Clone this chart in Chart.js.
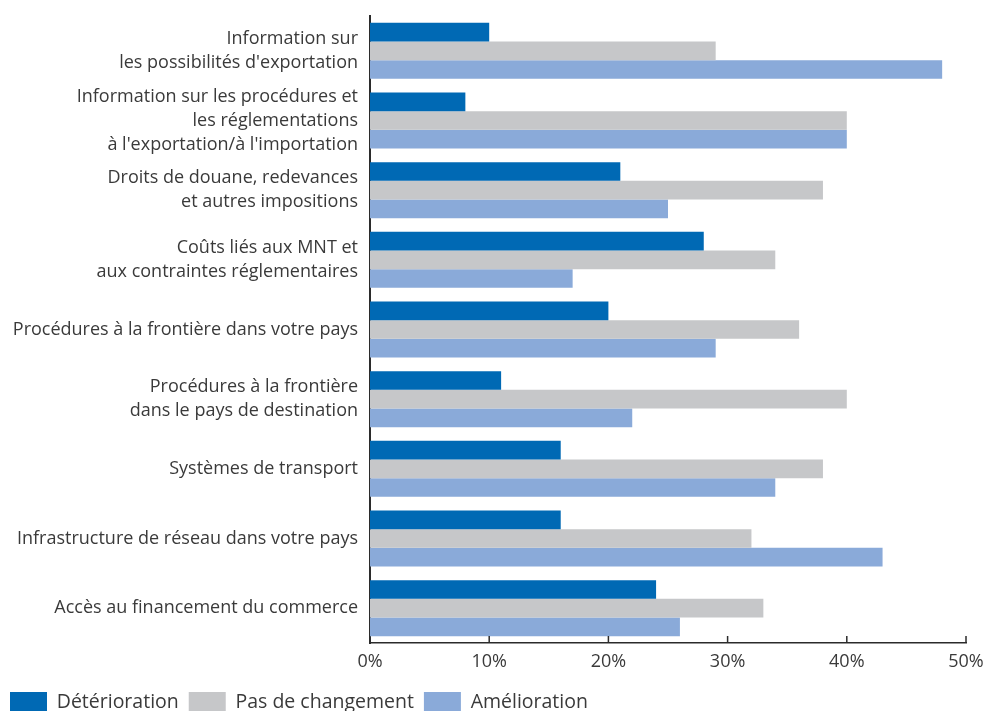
<!DOCTYPE html>
<html>
<head>
<meta charset="utf-8">
<script src="https://cdn.jsdelivr.net/npm/chart.js@4.4.0/dist/chart.umd.min.js"></script>
<style>
  html, body { margin: 0; padding: 0; background: #fff; overflow: hidden; }
  #wrap { position: relative; width: 987px; height: 722px; }
</style>
</head>
<body>
<div id="wrap"><canvas id="chart_obstacles"></canvas></div>
<script>
const categories = [
    ["Information sur", "les possibilités d'exportation"],
    ["Information sur les procédures et", "les réglementations", "à l'exportation/à l'importation"],
    ["Droits de douane, redevances", "et autres impositions"],
    ["Coûts liés aux MNT et", "aux contraintes réglementaires"],
    "Procédures à la frontière dans votre pays",
    ["Procédures à la frontière", "dans le pays de destination"],
    "Systèmes de transport",
    "Infrastructure de réseau dans votre pays",
    "Accès au financement du commerce"
];
const deterioration = [10, 8, 21, 28, 20, 11, 16, 16, 24];
const pasDeChangement = [29, 40, 38, 34, 36, 40, 38, 32, 33];
const amelioration = [48, 40, 25, 17, 29, 22, 34, 43, 26];
const xTicks = [0, 10, 20, 30, 40, 50];

const textColor = "#3a3a3a";
const axisColor = "#2b2b2b";

// small tick marks pointing up into the plot, off the bottom axis
const innerTicks = {
    id: "innerTicks",
    afterDraw(chart) {
        const ctx = chart.ctx;
        const x = chart.scales.x;
        const bottom = chart.chartArea.bottom;
        ctx.save();
        ctx.strokeStyle = axisColor;
        ctx.lineWidth = 1.5;
        xTicks.forEach(function(v) {
            if (v === 0) return;
            const px = x.getPixelForValue(v);
            ctx.beginPath();
            ctx.moveTo(px, bottom);
            ctx.lineTo(px, bottom - 7);
            ctx.stroke();
        });
        ctx.restore();
    }
};

const chart_obstacles = new Chart("chart_obstacles", {
    type: "bar",
    data: {
        labels: categories,
        datasets: [{
            label: "Détérioration",
            data: deterioration,
            backgroundColor: "#0069b4"
        },
        {
            label: "Pas de changement",
            data: pasDeChangement,
            backgroundColor: "#c6c7c9"
        },
        {
            label: "Amélioration",
            data: amelioration,
            backgroundColor: "#8aaad9"
        }]
    },
    options: {
        indexAxis: "y",
        responsive: true,
        maintainAspectRatio: false,
        animation: false,
        layout: {padding: {top: 16, right: 21, left: 0, bottom: 0}},
        datasets: {
            bar: {categoryPercentage: 0.805, barPercentage: 1.0, borderWidth: 0}
        },
        scales: {
            x: {
                min: 0,
                max: 50,
                afterBuildTicks: function(scale) {
                    scale.ticks = xTicks.map(function(v) { return {value: v}; });
                },
                afterFit: function(scale) {
                    scale.height = 39;
                    scale.paddingLeft = 0;
                    scale.paddingRight = 0;
                },
                grid: {display: false, drawTicks: false},
                border: {display: true, color: axisColor, width: 1.5},
                ticks: {
                    color: textColor,
                    padding: 8,
                    font: {family: "'Open Sans', sans-serif", size: 18},
                    callback: function(v) { return v + "%"; }
                }
            },
            y: {
                afterFit: function(scale) {
                    scale.width = 370;
                    scale.paddingTop = 0;
                    scale.paddingBottom = 0;
                },
                grid: {display: false, drawTicks: false},
                border: {display: true, color: axisColor, width: 2},
                ticks: {
                    autoSkip: false,
                    color: textColor,
                    padding: 12,
                    font: {family: "'Open Sans', sans-serif", size: 18, lineHeight: 1.33}
                }
            }
        },
        plugins: {
            legend: {
                position: "bottom",
                align: "start",
                labels: {
                    boxWidth: 37,
                    boxHeight: 20,
                    padding: 10,
                    color: textColor,
                    font: {family: "'Open Sans', sans-serif", size: 19.5}
                }
            },
            tooltip: {enabled: false}
        }
    },
    plugins: [innerTicks]
});
</script>
</body>
</html>
